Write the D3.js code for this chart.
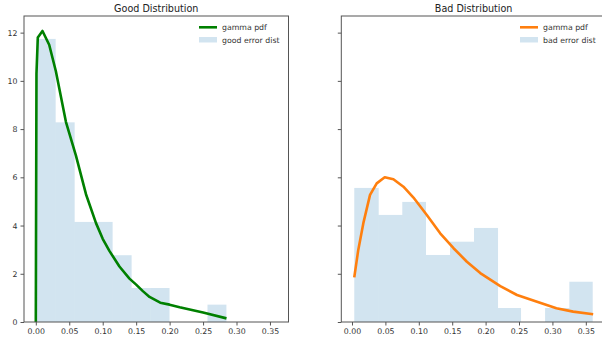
<!DOCTYPE html>
<html>
<head>
<meta charset="utf-8">
<script src="https://cdn.jsdelivr.net/npm/d3@7"></script>
<style>
	body { margin: 0; background: #fff; }
	svg { display: block; font-family: "DejaVu Sans", sans-serif; }
</style>
</head>
<body>
<div id="visualizer-container"></div>
<script>
// Histogram bin edges and densities
const goodEdges = [0.0013, 0.0297, 0.0581, 0.0864, 0.1148, 0.1432, 0.1715, 0.1999, 0.2282, 0.2566, 0.2849];
const goodDensity = [11.74, 8.28, 4.15, 4.15, 2.77, 1.41, 1.41, 0, 0, 0.72];
const badEdges = [0.0034, 0.0400, 0.0753, 0.1108, 0.1467, 0.1826, 0.2186, 0.2530, 0.2890, 0.3253, 0.3603];
const badDensity = [5.56, 4.44, 4.98, 2.78, 3.33, 3.90, 0.58, 0, 0.58, 1.67];

// Fitted gamma pdf curves
const goodPdfX = [0.000, 0.001, 0.003, 0.010, 0.020, 0.030, 0.045, 0.060, 0.075, 0.090, 0.100, 0.110, 0.125, 0.140, 0.150, 0.160, 0.170, 0.186, 0.200, 0.215, 0.250, 0.285];
const goodPdfY = [0.0, 10.3, 11.8, 12.07, 11.5, 10.4, 8.3, 6.9, 5.3, 4.1, 3.45, 2.95, 2.3, 1.8, 1.55, 1.28, 1.04, 0.80, 0.72, 0.61, 0.39, 0.15];
const badPdfX = [0.0034, 0.0094, 0.017, 0.027, 0.037, 0.049, 0.062, 0.077, 0.092, 0.112, 0.132, 0.152, 0.172, 0.192, 0.222, 0.247, 0.277, 0.306, 0.331, 0.361];
const badPdfY = [1.85, 2.99, 4.1, 5.27, 5.75, 6.0, 5.92, 5.61, 5.16, 4.44, 3.68, 3.06, 2.5, 2.03, 1.49, 1.12, 0.84, 0.57, 0.43, 0.32];

const xTicks = [0, 0.05, 0.1, 0.15, 0.2, 0.25, 0.3, 0.35];
const yTicks = [0, 2, 4, 6, 8, 10, 12];

// Attribute
const width = 602;
const height = 343;
const plotTop = 16;
const plotBottom = 322;
const histColor = 'rgba(31,119,180,0.2)';

const svg = d3.select('#visualizer-container').append('svg')
	.attr('width', width).attr('height', height)
	.attr('viewBox', [0, 0, width, height])
	.style('overflow', 'hidden');

const y = d3.scaleLinear().domain([0, 12.69]).range([plotBottom, plotTop]);

function panel(opts) {
	const x = d3.scaleLinear().domain(opts.xDomain).range([opts.left, opts.right]);
	const g = svg.append('g');

	// bars
	const bins = opts.density.map((d, i) => ({ x0: opts.edges[i], x1: opts.edges[i + 1], v: d }))
		.filter((b) => b.v > 0);
	g.append('g').attr('fill', histColor)
		.selectAll('rect').data(bins).join('rect')
		.attr('x', (d) => x(d.x0))
		.attr('width', (d) => x(d.x1) - x(d.x0))
		.attr('y', (d) => y(d.v))
		.attr('height', (d) => y(0) - y(d.v));

	// pdf line
	const pts = opts.pdfX.map((v, i) => [v, opts.pdfY[i]]);
	g.append('path').datum(pts)
		.attr('fill', 'none').attr('stroke', opts.color).attr('stroke-width', 2.6)
		.attr('stroke-linejoin', 'round')
		.attr('d', d3.line().x((d) => x(d[0])).y((d) => y(d[1])));

	// axes
	const xAxis = g.append('g').attr('transform', `translate(0,${plotBottom})`)
		.call(d3.axisBottom(x).tickValues(xTicks).tickFormat(d3.format('.2f')).tickSizeOuter(0).tickSize(3.5).tickPadding(3));
	const yAxis = g.append('g').attr('transform', `translate(${opts.left},0)`)
		.call(d3.axisLeft(y).tickValues(yTicks).tickSizeOuter(0).tickSize(3.5).tickPadding(3)
			.tickFormat(opts.yLabels ? d3.format('d') : () => ''));
	[xAxis, yAxis].forEach((a) => {
		a.select('.domain').remove();
		a.selectAll('line').attr('stroke', '#555');
		a.selectAll('text').attr('fill', '#333').style('font-size', '7.8px').style('font-family', '"DejaVu Sans", sans-serif');
	});

	// frame
	g.append('rect')
		.attr('x', opts.left).attr('y', plotTop)
		.attr('width', opts.right - opts.left).attr('height', plotBottom - plotTop)
		.attr('fill', 'none').attr('stroke', '#555').attr('stroke-width', 1);

	// title
	g.append('text')
		.attr('x', (opts.left + opts.right) / 2).attr('y', 12)
		.attr('text-anchor', 'middle').attr('fill', '#222')
		.style('font-size', '9.6px')
		.text(opts.title);

	// legend
	const lg = g.append('g').attr('transform', `translate(${opts.legX},0)`);
	lg.append('line').attr('x1', 0).attr('x2', 18).attr('y1', 27.3).attr('y2', 27.3)
		.attr('stroke', opts.color).attr('stroke-width', 2.6);
	lg.append('rect').attr('x', 0).attr('y', 37).attr('width', 18).attr('height', 5.5).attr('fill', histColor);
	lg.selectAll('text').data(['gamma pdf', opts.histLabel]).join('text')
		.attr('x', 23).attr('y', (d, i) => 30.3 + i * 12.4)
		.attr('fill', '#333').style('font-size', '7.8px')
		.text((d) => d);
}

panel({
	left: 24, right: 288.5, xDomain: [-0.01764, 0.3777],
	edges: goodEdges, density: goodDensity, pdfX: goodPdfX, pdfY: goodPdfY,
	color: '#008000', title: 'Good Distribution', histLabel: 'good error dist',
	yLabels: true, legX: 199,
});
panel({
	left: 341.3, right: 606, xDomain: [-0.016, 0.3802],
	edges: badEdges, density: badDensity, pdfX: badPdfX, pdfY: badPdfY,
	color: '#ff7f0e', title: 'Bad Distribution', histLabel: 'bad error dist',
	yLabels: false, legX: 520,
});
</script>
</body>
</html>
